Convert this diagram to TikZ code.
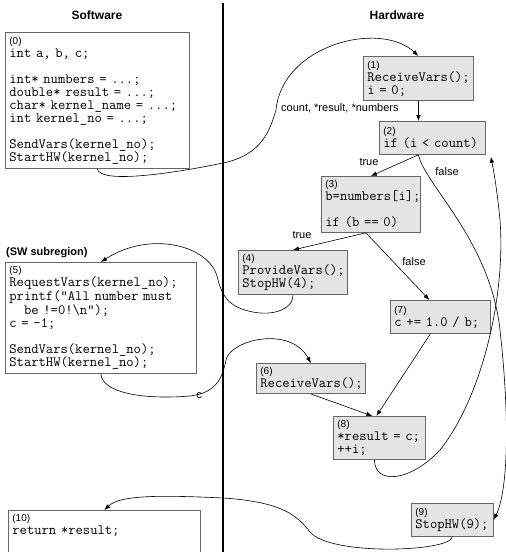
\documentclass[tikz,border=0pt]{standalone}
\usepackage{fontspec}
\setmainfont{Liberation Sans}
\usetikzlibrary{arrows.meta}

\newcommand{\boxno}[1]{{\rmfamily\fontsize{10}{12}\selectfont(#1)}}
\tikzset{
  code/.style={draw=black!60, line width=0.8pt, anchor=north west, align=left,
    inner sep=4pt, font=\ttfamily\fontsize{14.2}{13}\selectfont},
  swcode/.style={code, fill=white},
  hwcode/.style={code, fill=black!10},
  flow/.style={draw, line width=0.6pt, -{Latex[length=6pt,width=4.5pt]}},
  lbl/.style={font=\fontsize{11}{13}\selectfont, inner sep=0pt},
  title/.style={font=\bfseries\fontsize{12}{14}\selectfont},
}

\begin{document}
\begin{tikzpicture}[x=1pt, y=-1pt]
  \useasboundingbox (0,0) rectangle (506,552);

  \node[title] (swtitle) at (97,15) {Software};
  \node[title] (hwtitle) at (397,15) {Hardware};
  \coordinate (divtop) at (223,3);
  \coordinate (divbot) at (223,560);
  \draw[line width=2.5pt] (divtop) -- (divbot);

  \node[swcode, text width=176pt, minimum height=136pt] (s0) at (5,32)
    {\boxno{0}\\int a, b, c;\\\mbox{}\\int* numbers = ...;\\double* result = ...;\\
     char* kernel\_name = ...;\\int kernel\_no = ...;\\\mbox{}\\
     SendVars(kernel\_no);\\StartHW(kernel\_no);};
  \node[hwcode, text width=102pt, minimum height=44pt] (h1) at (363,56)
    {\boxno{1}\\ReceiveVars();\\i = 0;};
  \node[hwcode, text width=98pt, minimum height=33pt] (h2) at (379,121)
    {\boxno{2}\\if (i < count)};
  \node[hwcode, text width=91pt, minimum height=56pt] (h3) at (321,176)
    {\boxno{3}\\b=numbers[i];\\\mbox{}\\if (b == 0)};
  \node[hwcode, text width=101pt, minimum height=44pt] (h4) at (238,250)
    {\boxno{4}\\ProvideVars();\\StopHW(4);};
  \node[font=\bfseries\fontsize{11}{13}\selectfont, anchor=west, inner sep=0pt]
    (subtitle) at (6,253) {(SW subregion)};
  \node[swcode, text width=183pt, minimum height=110pt] (s5) at (5,262)
    {\boxno{5}\\RequestVars(kernel\_no);\\printf("All number must\\
     \phantom{xx}be !=0!\textbackslash n");\\c = -1;\\\mbox{}\\
     SendVars(kernel\_no);\\StartHW(kernel\_no);};
  \node[hwcode, text width=101pt, minimum height=30pt] (h6) at (256,363)
    {\boxno{6}\\ReceiveVars();};
  \node[hwcode, text width=92pt, minimum height=33pt] (h7) at (390,300)
    {\boxno{7}\\c += 1.0 / b;};
  \node[hwcode, text width=84pt, minimum height=43pt] (h8) at (333,416)
    {\boxno{8}\\{}*result = c;\\++i;};
  \node[hwcode, text width=74pt, minimum height=33pt] (h9) at (411,503)
    {\boxno{9}\\StopHW(9);};
  \node[swcode, text width=184pt] (s10) at (8,510)
    {\boxno{10}\\return *result;\\\mbox{}\\\mbox{}};

  \node[lbl, anchor=west] (lblcount) at (281,108) {count, *result, *numbers};
  \node[lbl] (lbltrueA) at (369,162) {true};
  \node[lbl] (lblfalseA) at (447,172) {false};
  \node[lbl] (lbltrueB) at (302,235) {true};
  \node[lbl] (lblfalseB) at (414,262) {false};
  \node[lbl] (lblc) at (199,396) {c};

  \draw[flow] (s0.south) .. controls (100,185) and (180,172) .. (223,163)
    .. controls (262,155) and (270,130) .. (276,110)
    .. controls (282,45) and (380,20) .. (h1.north);
  \draw[flow] (h1.south) -- (h1.south |- h2.north);
  \coordinate (h2out) at (h1.south |- h2.south);
  \draw[flow] (h2out) -- (h3.north);
  \draw[flow] (h2out) .. controls (425,185) and (490,240) .. (500,330)
    .. controls (510,420) and (508,490) .. (h9.east);
  \draw[flow] ([xshift=-5pt]h3.south) -- (h4.north);
  \draw[flow] ([xshift=-5pt]h3.south) -- ([xshift=-11pt]h7.north);
  \draw[flow] (h4.south) .. controls (293,310) and (270,318) .. (245,310)
    .. controls (228,305) and (222,295) .. (218,280)
    .. controls (212,245) and (150,230) .. (s5.north);
  \draw[flow] (s5.south) .. controls (102,392) and (140,400) .. (190,396)
    .. controls (215,393) and (222,380) .. (226,360)
    .. controls (230,340) and (290,325) .. (h6.north);
  \draw[flow] (h6.south) -- ([xshift=-7pt]h8.north);
  \draw[flow] ([xshift=-10pt]h7.south) -- ([xshift=-3pt]h8.north);
  \draw[flow] ([xshift=-5pt]h8.south) .. controls (375,485) and (410,482) .. (440,450)
    .. controls (480,400) and (506,300) .. (500,220)
    .. controls (497,190) and (494,172) .. ([xshift=5pt,yshift=-2pt]h2.south east);
  \draw[flow] (h9.south) .. controls (450,552) and (330,556) .. (310,532)
    .. controls (298,517) and (285,502) .. (223,498)
    .. controls (160,495) and (120,495) .. (s10.north);
\end{tikzpicture}
\end{document}
